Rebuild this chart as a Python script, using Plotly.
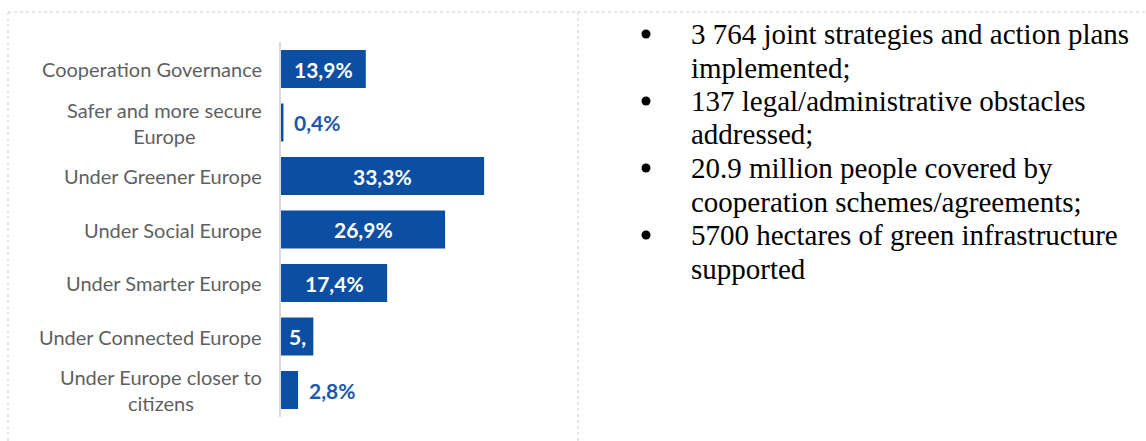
import plotly.graph_objects as go

# Share of allocations by policy objective (%)
categories = [
    "Cooperation Governance",
    "Safer and more secure<br>Europe",
    "Under Greener Europe",
    "Under Social Europe",
    "Under Smarter Europe",
    "Under Connected Europe",
    "Under Europe closer to<br>citizens",
]
shares = [13.9, 0.4, 33.3, 26.9, 17.4, 5.3, 2.8]
bar_labels = ["13,9%", "0,4%", "33,3%", "26,9%", "17,4%", "5,", "2,8%"]

# Key results listed next to the chart
bullet_items = [
    ["3 764 joint strategies and action plans", "implemented;"],
    ["137 legal/administrative obstacles", "addressed;"],
    ["20.9 million people covered by", "cooperation schemes/agreements;"],
    ["5700 hectares of green infrastructure", "supported"],
]

W, H = 1146, 441
BLUE = "#0B4EA2"
LABEL_BLUE = "#1D58A8"
GREY_TEXT = "#5F5F5F"
BORDER = "#CFCFCF"


def px_x(x):
    return x / W


def px_y(y):
    return 1 - y / H


# plot area geometry (pixels)
AXIS_X = 281
RIGHT_X = 578
TOP_Y = 42.25
BOTTOM_Y = 416.75
PX_PER_UNIT = 6.1

fig = go.Figure(
    go.Bar(
        x=shares,
        y=categories,
        orientation="h",
        marker=dict(color=BLUE, line=dict(width=0)),
        hoverinfo="skip",
    )
)

annotations = []

# category labels, right-aligned against the axis, wrapped lines centered
for cat in categories:
    annotations.append(dict(
        x=0, xref="x", y=cat, yref="y",
        text=cat, showarrow=False,
        xanchor="right", yanchor="middle", xshift=-17, align="center",
        font=dict(family="Lato", size=20, color=GREY_TEXT),
    ))

# value labels: inside (white) for wide bars, after the bar (blue) for narrow ones
for cat, v, lab in zip(categories, shares, bar_labels):
    if v >= 5:
        annotations.append(dict(
            x=v / 2, xref="x", y=cat, yref="y", text=lab, showarrow=False,
            xanchor="center", yanchor="middle",
            font=dict(family="Lato", size=21, color="white", weight="bold"),
        ))
    else:
        annotations.append(dict(
            x=v, xref="x", y=cat, yref="y", text=lab, showarrow=False,
            xanchor="left", yanchor="middle", xshift=9,
            font=dict(family="Lato", size=21, color=LABEL_BLUE, weight="bold"),
        ))

# bulleted list on the right
shapes = []
line_y = 34.0
LINE_STEP = 33.5
for item in bullet_items:
    shapes.append(dict(
        type="circle", xref="paper", yref="paper",
        x0=px_x(641.5), x1=px_x(650.5), y0=px_y(line_y - 4.5), y1=px_y(line_y + 4.5),
        fillcolor="black", line=dict(width=0),
    ))
    for line in item:
        annotations.append(dict(
            x=px_x(689), xref="paper", y=px_y(line_y), yref="paper",
            text=line, showarrow=False, xanchor="left", yanchor="middle",
            font=dict(family="Liberation Serif", size=29, color="black"),
        ))
        line_y += LINE_STEP

# dotted frame lines
for x0, y0, x1, y1 in [(8, 12, W, 12), (8, 12, 8, H), (RIGHT_X, 12, RIGHT_X, H)]:
    shapes.append(dict(
        type="line", xref="paper", yref="paper",
        x0=px_x(x0), y0=px_y(y0), x1=px_x(x1), y1=px_y(y1),
        line=dict(color=BORDER, width=1, dash="dot"),
    ))

fig.update_layout(
    width=W, height=H,
    margin=dict(l=0, r=0, t=0, b=0),
    paper_bgcolor="white", plot_bgcolor="white",
    showlegend=False,
    bargap=0.29,
    xaxis=dict(
        domain=[px_x(AXIS_X), px_x(RIGHT_X)],
        range=[0, (RIGHT_X - AXIS_X) / PX_PER_UNIT],
        showgrid=False, zeroline=False, showticklabels=False, showline=False,
        fixedrange=True,
    ),
    yaxis=dict(
        domain=[px_y(BOTTOM_Y), px_y(TOP_Y)],
        type="category",
        categoryorder="array", categoryarray=categories,
        range=[len(categories) - 0.5, -0.5],
        showgrid=False, zeroline=False, showticklabels=False,
        showline=True, linecolor="#D9D9D9", linewidth=1.5,
        fixedrange=True,
    ),
    annotations=annotations,
    shapes=shapes,
)

fig.write_html("out.html")
